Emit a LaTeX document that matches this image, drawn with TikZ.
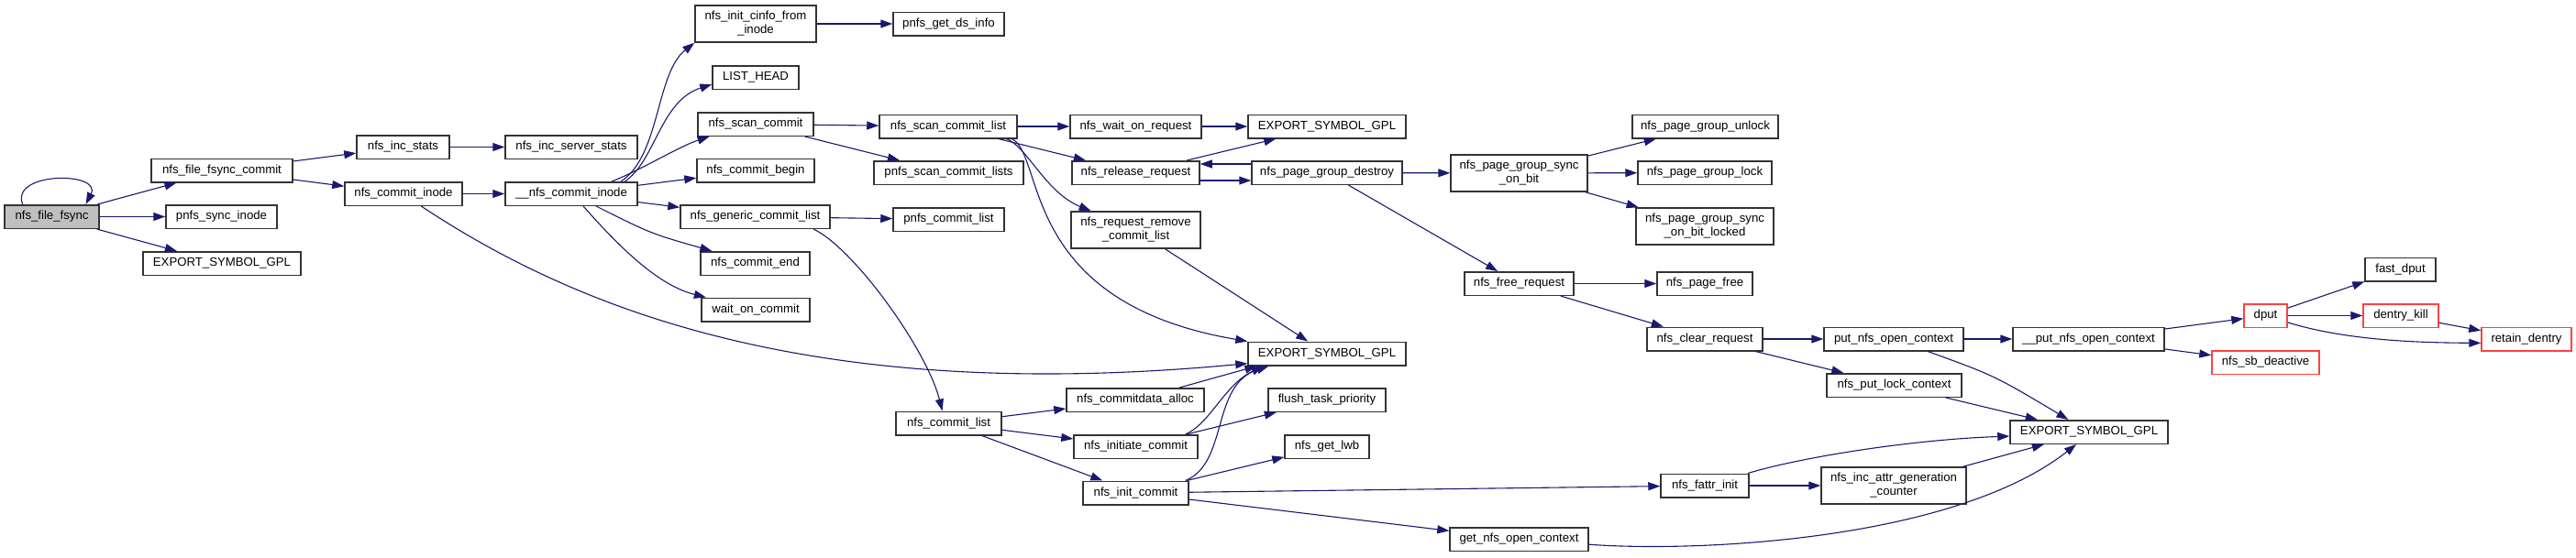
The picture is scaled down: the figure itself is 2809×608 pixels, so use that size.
\documentclass[tikz,border=0pt]{standalone}
\usepackage{fontspec}
\setmainfont{Liberation Sans}
\usepackage{tikz}
\usetikzlibrary{arrows.meta}
\definecolor{edge}{RGB}{25,25,112}
\definecolor{trunc}{RGB}{255,64,64}
\definecolor{here}{RGB}{191,191,191}

\begin{document}
\begin{tikzpicture}[x=1pt, y=-1pt,
  every node/.style={font=\fontsize{13.2}{15}\selectfont},
  box/.style={rectangle, draw=black!80, line width=1.5pt, fill=white,
              minimum height=25.5pt, inner sep=2pt, align=center},
  tall/.style={box, minimum height=40pt},
  ext/.style={box, draw=trunc},
  arr/.style={-{Triangle[length=13pt, width=9pt]}, line width=1.1pt, draw=edge},
]
\useasboundingbox (0,0) rectangle (2809,608);
\node[box, fill=here, minimum width=103pt] (fsync)    at (56.5,236.5)  {nfs\_file\_fsync};
\node[box, minimum width=154pt]            (fcommit)  at (242,186)     {nfs\_file\_fsync\_commit};
\node[box, minimum width=121pt]            (psync)    at (241.5,236.5) {pnfs\_sync\_inode};
\node[box, minimum width=172pt]            (exp1)     at (242,287.5)   {EXPORT\_SYMBOL\_GPL};
\node[box, minimum width=101pt]            (incstats) at (439.5,160.5) {nfs\_inc\_stats};
\node[box, minimum width=128pt]            (cinode)   at (440,211.5)   {nfs\_commit\_inode};
\node[box, minimum width=144pt]            (incsrv)   at (623,160.5)   {nfs\_inc\_server\_stats};
\node[box, minimum width=144pt]            (ucinode)  at (623,211.5)   {\_\_nfs\_commit\_inode};
\node[tall, minimum width=132pt]           (initcinfo) at (824,26)     {nfs\_init\_cinfo\_from\\\_inode};
\node[box, minimum width=94pt]             (listhead) at (824,84.5)    {LIST\_HEAD};
\node[box, minimum width=126pt]            (scan)     at (824,135.5)   {nfs\_scan\_commit};
\node[box, minimum width=128pt]            (cbegin)   at (824,186)     {nfs\_commit\_begin};
\node[box, minimum width=163pt]            (gencl)    at (823.5,236.5) {nfs\_generic\_commit\_list};
\node[box, minimum width=119pt]            (cend)     at (823.5,287.5) {nfs\_commit\_end};
\node[box, minimum width=118pt]            (waitc)    at (824,338)     {wait\_on\_commit};
\node[box, minimum width=121pt]            (getds)    at (1034.5,26)   {pnfs\_get\_ds\_info};
\node[box, minimum width=150pt]            (scanl)    at (1034,138)    {nfs\_scan\_commit\_list};
\node[box, minimum width=163pt]            (pscanl)   at (1034.5,188.5) {pnfs\_scan\_commit\_lists};
\node[box, minimum width=121pt]            (pcl)      at (1034.5,239.5) {pnfs\_commit\_list};
\node[box, minimum width=115pt]            (clist)    at (1034.5,462)  {nfs\_commit\_list};
\node[box, minimum width=143pt]            (waitreq)  at (1238.5,138)  {nfs\_wait\_on\_request};
\node[box, minimum width=139pt]            (relreq)   at (1238.5,188.5) {nfs\_release\_request};
\node[tall, minimum width=141pt]           (remcl)    at (1238.5,251)  {nfs\_request\_remove\\\_commit\_list};
\node[box, minimum width=150pt]            (cdalloc)  at (1238,436.5)  {nfs\_commitdata\_alloc};
\node[box, minimum width=135pt]            (initc)    at (1238.5,487.5) {nfs\_initiate\_commit};
\node[box, minimum width=115pt]            (initcommit) at (1238.5,538) {nfs\_init\_commit};
\node[box, minimum width=172pt]            (exp2)     at (1447,138)    {EXPORT\_SYMBOL\_GPL};
\node[box, minimum width=164pt]            (pgdestroy) at (1447,188.5) {nfs\_page\_group\_destroy};
\node[box, minimum width=172pt]            (exp3)     at (1447,386)    {EXPORT\_SYMBOL\_GPL};
\node[box, minimum width=128pt]            (flushp)   at (1447,436.5)  {flush\_task\_priority};
\node[box, minimum width=92pt]             (lwb)      at (1447,487.5)  {nfs\_get\_lwb};
\node[tall, minimum width=149pt]           (syncbit)  at (1656.5,189)  {nfs\_page\_group\_sync\\\_on\_bit};
\node[box, minimum width=119pt]            (freereq)  at (1656.5,309.5) {nfs\_free\_request};
\node[box, minimum width=151pt]            (getctx)   at (1656.5,588.5) {get\_nfs\_open\_context};
\node[box, minimum width=159pt]            (unlock)   at (1859.5,138)  {nfs\_page\_group\_unlock};
\node[box, minimum width=146pt]            (lock)     at (1859,188.5)  {nfs\_page\_group\_lock};
\node[tall, minimum width=150pt]           (locked)   at (1859,247)    {nfs\_page\_group\_sync\\\_on\_bit\_locked};
\node[box, minimum width=104pt]            (pfree)    at (1859,309.5)  {nfs\_page\_free};
\node[box, minimum width=126pt]            (clearreq) at (1859,370)    {nfs\_clear\_request};
\node[box, minimum width=96pt]             (fattr)    at (1859,530)    {nfs\_fattr\_init};
\node[box, minimum width=152pt]            (putctx)   at (2065,370)    {put\_nfs\_open\_context};
\node[box, minimum width=147pt]            (putlock)  at (2065.5,420.5) {nfs\_put\_lock\_context};
\node[tall, minimum width=158pt]           (genctr)   at (2065,530)    {nfs\_inc\_attr\_generation\\\_counter};
\node[box, minimum width=165pt]            (uputctx)  at (2277.5,370)  {\_\_put\_nfs\_open\_context};
\node[box, minimum width=172pt]            (exp4)     at (2278,471.5)  {EXPORT\_SYMBOL\_GPL};
\node[ext, minimum width=47pt]             (dput)     at (2470.5,344.5) {dput};
\node[ext, minimum width=117pt]            (nfssb)    at (2470.5,395.5) {nfs\_sb\_deactive};
\node[box, minimum width=77pt]             (fastdput) at (2617.5,294)  {fast\_dput};
\node[ext, minimum width=82pt]             (dkill)    at (2618,344.5)  {dentry\_kill};
\node[ext, minimum width=98pt]             (retain)   at (2755,370)    {retain\_dentry};

\draw[arr] (fsync.157) .. controls +(-14,-36) and +(18,-36) .. (fsync.20);
\draw[arr] (fsync) -- (fcommit);
\draw[arr] (fsync) -- (psync);
\draw[arr] (fsync) -- (exp1);
\draw[arr] (fcommit) -- (incstats);
\draw[arr] (fcommit) -- (cinode);
\draw[arr] (incstats) -- (incsrv);
\draw[arr] (cinode) -- (ucinode);
\draw[arr] (cinode.-35) .. controls (640,345) and (900,440) .. (exp3.187);
\draw[arr] (ucinode.14) .. controls (720,170) and (715,80) .. (initcinfo.south west);
\draw[arr] (ucinode.13) .. controls (715,175) and (720,110) .. (listhead.189);
\draw[arr] (ucinode.17) .. controls (700,185) and (740,160) .. (scan.195);
\draw[arr] (ucinode) -- (cbegin);
\draw[arr] (ucinode) -- (gencl);
\draw[arr] (ucinode) .. controls (710,255) .. (cend);
\draw[arr] (ucinode.-46) .. controls (680,275) and (720,312) .. (waitc.166);
\draw[arr] (initcinfo) -- (getds);
\draw[arr] (scan) -- (scanl);
\draw[arr] (scan) -- (pscanl);
\draw[arr] (gencl) -- (pcl);
\draw[arr] (gencl.-12) .. controls (930,270) and (1010,380) .. (clist.117);
\draw[arr] (scanl) -- (waitreq);
\draw[arr] (scanl) -- (relreq);
\draw[arr] (scanl.-12) .. controls (1120,160) and (1140,210) .. (remcl.157);
\draw[arr] (scanl.-11) .. controls (1140,170) and (1110,330) .. (exp3.north west);
\draw[arr] (waitreq) -- (exp2);
\draw[arr] (relreq) -- (exp2);
\draw[arr] ([yshift=-8.5pt]relreq.east) -- ([yshift=-8.5pt]pgdestroy.west);
\draw[arr] ([yshift=9.5pt]pgdestroy.west) -- ([yshift=9.5pt]relreq.east);
\draw[arr] (remcl) -- (exp3);
\draw[arr] (pgdestroy) -- (syncbit);
\draw[arr] (pgdestroy) -- (freereq);
\draw[arr] (syncbit) -- (unlock);
\draw[arr] (syncbit) -- (lock);
\draw[arr] (syncbit) -- (locked);
\draw[arr] (freereq) -- (pfree);
\draw[arr] (freereq) -- (clearreq);
\draw[arr] (clearreq) -- (putctx);
\draw[arr] (clearreq) -- (putlock);
\draw[arr] (putctx) -- (uputctx);
\draw[arr] (putctx) .. controls (2175,410) .. (exp4);
\draw[arr] (putlock) -- (exp4);
\draw[arr] (fattr.16) .. controls (1960,500) and (2080,480) .. (exp4.183);
\draw[arr] (fattr) -- (genctr);
\draw[arr] (genctr) -- (exp4);
\draw[arr] (getctx) .. controls (1850,603) and (2130,590) .. (exp4.224);
\draw[arr] (clist) -- (cdalloc);
\draw[arr] (clist) -- (initc);
\draw[arr] (clist) -- (initcommit);
\draw[arr] (cdalloc) -- (exp3.190);
\draw[arr] (initc.14) .. controls (1320,462) and (1335,420) .. (exp3.191);
\draw[arr] (initc) -- (flushp);
\draw[arr] (initcommit.14) .. controls (1340,505) and (1320,420) .. (exp3.192);
\draw[arr] (initcommit) -- (lwb);
\draw[arr] (initcommit) -- (fattr);
\draw[arr] (initcommit) -- (getctx);
\draw[arr] (uputctx) -- (dput);
\draw[arr] (uputctx) -- (nfssb);
\draw[arr] (dput) -- (fastdput);
\draw[arr] (dput) -- (dkill);
\draw[arr] (dput.-17) .. controls (2560,372) and (2640,374) .. (retain.185);
\draw[arr] (dkill) -- (retain);
\end{tikzpicture}
\end{document}
